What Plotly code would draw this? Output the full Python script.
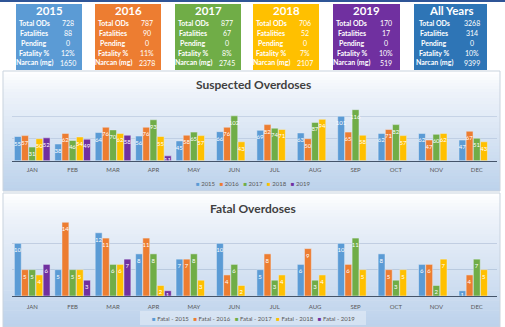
import plotly.graph_objects as go

# ---------------- data ----------------
months = ["JAN", "FEB", "MAR", "APR", "MAY", "JUN", "JUL", "AUG", "SEP", "OCT", "NOV", "DEC"]
years = ["2015", "2016", "2017", "2018", "2019"]
year_colors = ["#5B9BD5", "#ED7D31", "#70AD47", "#FFC000", "#7030A0"]

susp_2015 = [55, 38, 64, 56, 45, 66, 69, 63, 101, 62, 62, 47]
susp_2016 = [57, 62, 76, 76, 58, 76, 82, 50, 65, 71, 47, 67]
susp_2017 = [31, 46, 70, 93, 65, 102, 74, 87, 116, 82, 60, 51]
susp_2018 = [50, 54, 62, 55, 57, 43, 71, 94, 58, 57, 62, 43]
susp_2019 = [52, 49, 58, 11, None, None, None, None, None, None, None, None]

fatal_2015 = [10, 5, 12, 8, 7, 10, 5, 6, 10, 8, 6, 1]
fatal_2016 = [5, 14, 11, 11, 7, 4, 8, 9, 6, 5, 6, 4]
fatal_2017 = [5, 5, 6, 8, 8, 6, 3, 3, 11, 3, 2, 7]
fatal_2018 = [4, 5, 6, 2, 3, 2, 4, 4, 5, 5, 7, 5]
fatal_2019 = [6, 3, 7, 1, None, None, None, None, None, None, None, None]

box_titles = ["2015", "2016", "2017", "2018", "2019", "All Years"]
box_colors = ["#5B9BD5", "#ED7D31", "#70AD47", "#FFC000", "#7030A0", "#2E75B6"]
row_labels = ["Total ODs", "Fatalities", "Pending", "Fatality %", "Narcan (mg)"]
total_ods = ["728", "787", "877", "706", "170", "3268"]
fatalities = ["88", "90", "67", "52", "17", "314"]
pending = ["0", "0", "0", "0", "0", "0"]
fatality_pct = ["12%", "11%", "8%", "7%", "10%", "10%"]
narcan_mg = ["1650", "2378", "2745", "2107", "519", "9399"]

susp_series = [susp_2015, susp_2016, susp_2017, susp_2018, susp_2019]
fatal_series = [fatal_2015, fatal_2016, fatal_2017, fatal_2018, fatal_2019]

# ---------------- layout helpers ----------------
W, H = 505, 327
FONT = "Lato"


def px(x):
    return x / W


def py(y):
    return 1 - y / H


def lerp_color(c0, c1, t):
    a = [int(c0[i:i + 2], 16) for i in (1, 3, 5)]
    b = [int(c1[i:i + 2], 16) for i in (1, 3, 5)]
    return "rgb(%d,%d,%d)" % tuple(round(a[k] + (b[k] - a[k]) * t) for k in range(3))


shapes = []
annotations = []


def gradient(x0, x1, stops, n=40):
    # stops: list of (y, color)
    y_top, y_bot = stops[0][0], stops[-1][0]
    step = (y_bot - y_top) / n
    for i in range(n):
        ya = y_top + i * step
        yb = ya + step + 0.6
        ym = ya + step / 2
        for j in range(len(stops) - 1):
            if stops[j][0] <= ym <= stops[j + 1][0]:
                t = (ym - stops[j][0]) / (stops[j + 1][0] - stops[j][0])
                col = lerp_color(stops[j][1], stops[j + 1][1], t)
                break
        shapes.append(dict(type="rect", xref="paper", yref="paper", layer="below",
                           x0=px(x0), x1=px(x1), y0=py(min(yb, y_bot)), y1=py(ya),
                           fillcolor=col, line=dict(width=0)))


# top blue line
shapes.append(dict(type="rect", xref="paper", yref="paper", layer="below",
                   x0=0, x1=1, y0=py(2), y1=1, fillcolor="#2F5597", line=dict(width=0)))

# panels
gradient(3, 500, [(71, "#FFFFFF"), (92, "#EEF3FA"), (191, "#BCD2EB")])
gradient(3, 500, [(193, "#FFFFFF"), (216, "#EEF3FA"), (327, "#BCD2EB")])
for (y0, y1) in [(71, 191), (193, 327)]:
    shapes.append(dict(type="rect", xref="paper", yref="paper", layer="below",
                       x0=px(3), x1=px(500), y0=py(y1), y1=py(y0),
                       fillcolor="rgba(0,0,0,0)", line=dict(color="#C9D3DE", width=1)))

# summary boxes
box_x = [(16, 82), (95, 161), (175, 241), (253, 319), (333, 400), (414, 487)]
rows_y = [23, 33, 43, 53, 63]
for i, title in enumerate(box_titles):
    x0, x1 = box_x[i]
    shapes.append(dict(type="rect", xref="paper", yref="paper", layer="below",
                       x0=px(x0), x1=px(x1), y0=py(70), y1=py(4),
                       fillcolor=box_colors[i], line=dict(width=0)))
    annotations.append(dict(xref="paper", yref="paper", x=px((x0 + x1) / 2), y=py(11),
                            text="<b>%s</b>" % title, showarrow=False,
                            font=dict(family=FONT, size=11.5, color="white"),
                            xanchor="center", yanchor="middle"))
    vals = [total_ods[i], fatalities[i], pending[i], fatality_pct[i], narcan_mg[i]]
    for r, lab in enumerate(row_labels):
        annotations.append(dict(xref="paper", yref="paper",
                                x=px(x0 + (x1 - x0) * 0.28), y=py(rows_y[r]),
                                text="<b>%s</b>" % lab, showarrow=False,
                                font=dict(family=FONT, size=7, color="white"),
                                xanchor="center", yanchor="middle"))
        annotations.append(dict(xref="paper", yref="paper",
                                x=px(x0 + (x1 - x0) * 0.79), y=py(rows_y[r]),
                                text=vals[r], showarrow=False,
                                font=dict(family=FONT, size=7, color="white"),
                                xanchor="center", yanchor="middle"))

# chart titles
annotations.append(dict(xref="paper", yref="paper", x=px(253), y=py(85),
                        text="<b>Suspected Overdoses</b>", showarrow=False,
                        font=dict(family=FONT, size=12, color="#404040"),
                        xanchor="center", yanchor="middle"))
annotations.append(dict(xref="paper", yref="paper", x=px(253), y=py(208),
                        text="<b>Fatal Overdoses</b>", showarrow=False,
                        font=dict(family=FONT, size=12, color="#404040"),
                        xanchor="center", yanchor="middle"))

# legends (as text)
leg1 = "   ".join('<span style="color:%s">■</span> %s' % (c, y) for c, y in zip(year_colors, years))
leg2 = "   ".join('<span style="color:%s">■</span> Fatal - %s' % (c, y) for c, y in zip(year_colors, years))
annotations.append(dict(xref="paper", yref="paper", x=px(253), y=py(183), text=leg1,
                        showarrow=False, font=dict(family=FONT, size=6, color="#595959"),
                        xanchor="center", yanchor="middle"))
shapes.append(dict(type="rect", xref="paper", yref="paper", layer="below",
                   x0=px(140), x1=px(366), y0=py(325), y1=py(311),
                   fillcolor="rgba(255,255,255,0.35)", line=dict(width=0)))
annotations.append(dict(xref="paper", yref="paper", x=px(253), y=py(318), text=leg2,
                        showarrow=False, font=dict(family=FONT, size=6, color="#595959"),
                        xanchor="center", yanchor="middle"))

# ---------------- figure ----------------
fig = go.Figure()
for k in range(5):
    fig.add_trace(go.Bar(x=months, y=susp_series[k], name=years[k], marker_color=year_colors[k],
                         text=susp_series[k], texttemplate="%{y}", textposition="inside",
                         insidetextanchor="end", textangle=0, constraintext="none",
                         textfont=dict(family=FONT, size=6, color="white"),
                         xaxis="x", yaxis="y", showlegend=False))
for k in range(5):
    fig.add_trace(go.Bar(x=months, y=fatal_series[k], name="Fatal - " + years[k],
                         marker_color=year_colors[k],
                         text=fatal_series[k], texttemplate="%{y}", textposition="inside",
                         insidetextanchor="end", textangle=0, constraintext="none",
                         textfont=dict(family=FONT, size=6, color="white"),
                         xaxis="x2", yaxis="y2", showlegend=False))

axis_common = dict(showline=True, linecolor="#44546A", linewidth=1.2, ticks="",
                   tickfont=dict(family=FONT, size=6, color="#595959"), showgrid=False)
fig.update_layout(
    width=W, height=H, margin=dict(l=0, r=0, t=0, b=0),
    paper_bgcolor="white", plot_bgcolor="rgba(0,0,0,0)",
    barmode="group", bargap=0.11, bargroupgap=0.04,
    font=dict(family=FONT),
    xaxis=dict(domain=[px(12), px(497)], anchor="y", ticklabelstandoff=3, **axis_common),
    yaxis=dict(domain=[py(160.7), py(94.7)], anchor="x", range=[0, 150], dtick=50,
               showticklabels=False, showgrid=True, gridcolor="rgba(150,170,200,0.35)",
               gridwidth=0.6, zeroline=False),
    xaxis2=dict(domain=[px(12), px(497)], anchor="y2", ticklabelstandoff=5, **axis_common),
    yaxis2=dict(domain=[py(296), py(217)], anchor="x2", range=[0, 15], dtick=5,
                showticklabels=False, showgrid=True, gridcolor="rgba(150,170,200,0.45)",
                gridwidth=0.6, zeroline=False),
    shapes=shapes, annotations=annotations,
)

fig.write_html("out.html")
